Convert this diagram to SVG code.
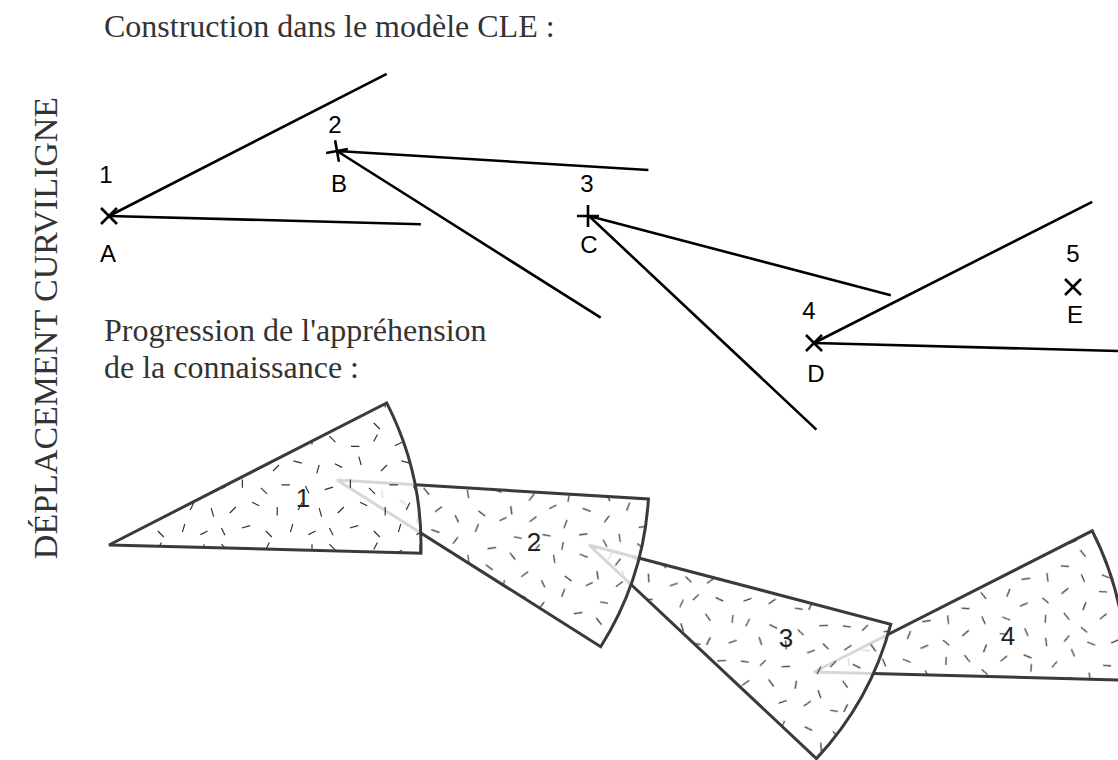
<svg xmlns="http://www.w3.org/2000/svg" width="1118" height="760" viewBox="0 0 1118 760">
<style>
.title{font-family:"Liberation Serif","Times New Roman",serif;font-size:32px;fill:#333}
.side{font-family:"Liberation Serif","Times New Roman",serif;font-size:34px;fill:#333}
.lbl{font-family:"Liberation Sans",Arial,sans-serif;font-size:24px;fill:#000;text-anchor:middle}
.num{font-family:"Liberation Sans",Arial,sans-serif;font-size:26px;fill:#222;text-anchor:middle}
.ray{stroke:#000;stroke-width:2.6;fill:none;stroke-linecap:butt}
.cross{stroke:#000;stroke-width:2.6;fill:none}
.veil{fill:#fff;fill-opacity:0.8;stroke:none}
.edge{fill:none;stroke:#3a3a3a;stroke-width:3;stroke-linejoin:miter}
</style>
<defs>
<pattern id="tex" width="108" height="108" patternUnits="userSpaceOnUse">
<path transform="scale(1.2)" fill="none" stroke="#333" stroke-width="1" d="M4.5 3.5l5 5M22.5 12l7 0M44.5 2l-3 6M59 11.5l6 -3M80 3.5l0 7M9 26.5l6 3M29 20.5l2 7M47.5 32.5l5 -5M64.5 24l7 2M86 27.5l-2 7M0.5 48l7 -2M22 39.5l0 7M37.5 46.5l5 5M54.5 44l7 0M74.5 45l3 6M11.5 67.5l5 -5M30 58.5l6 3M51 62.5l0 7M71.5 59l-3 6M86 63.5l2 7M4.5 80l3 6M21.5 80l7 -2M41.5 82.5l5 5M64 76.5l-2 7M77 85.5l6 -3"/>
</pattern>
<pattern id="tex2" href="#tex" patternTransform="translate(13 7) rotate(37)"/>
<pattern id="tex3" href="#tex" patternTransform="translate(31 19) rotate(71)"/>
<pattern id="tex4" href="#tex" patternTransform="translate(5 41) rotate(-23)"/>
</defs>

<text class="title" x="104" y="37">Construction dans le modèle CLE :</text>
<text class="side" transform="translate(57 328) rotate(-90)" text-anchor="middle">DÉPLACEMENT CURVILIGNE</text>
<text class="title" x="104" y="341">Progression de l'appréhension</text>
<text class="title" x="104" y="378">de la connaissance :</text>

<g id="connectors">
<path class="ray" d="M109 216L386.7 73.9M109 216L420.9 224.2"/>
<path class="ray" d="M337 151L648.4 170M337 151L600.7 317.7"/>
<path class="ray" d="M589 216L890.8 295.2M589 216L816.4 429.6"/>
<path class="ray" d="M814 343L1092.2 201.8M814 343L1125.9 351.2"/>
</g>

<g id="pointA">
<path class="cross" d="M101 208L117 224M117 208L101 224"/>
<text class="lbl" x="106" y="183">1</text>
<text class="lbl" x="108" y="262">A</text>
</g>
<g id="pointB">
<path class="cross" transform="translate(337 151) rotate(-10)" d="M-11 0L11 0M0 -11L0 11"/>
<text class="lbl" x="335" y="133">2</text>
<text class="lbl" x="339" y="192">B</text>
</g>
<g id="pointC">
<path class="cross" d="M577 216L599 216M588 205L588 227"/>
<text class="lbl" x="587" y="192">3</text>
<text class="lbl" x="589" y="253">C</text>
</g>
<g id="pointD">
<path class="cross" d="M806 335L822 351M822 335L806 351"/>
<text class="lbl" x="809" y="319">4</text>
<text class="lbl" x="816" y="382">D</text>
</g>
<g id="pointE">
<path class="cross" d="M1065 279L1081 295M1081 279L1065 295"/>
<text class="lbl" x="1073" y="262">5</text>
<text class="lbl" x="1075" y="323">E</text>
</g>

<g id="sector4">
<path class="veil" d="M814 672L1092.2 530.8A312 312 0 0 1 1125.9 680.2Z"/>
<path fill="url(#tex4)" d="M814 672L1092.2 530.8A312 312 0 0 1 1125.9 680.2Z"/>
<path class="edge" d="M814 672L1092.2 530.8A312 312 0 0 1 1125.9 680.2Z"/>
<text class="num" x="1008" y="645">4</text>
</g>
<g id="sector3">
<path class="veil" d="M589 545L890.8 624.2A312 312 0 0 1 816.4 758.6Z"/>
<path fill="url(#tex3)" d="M589 545L890.8 624.2A312 312 0 0 1 816.4 758.6Z"/>
<path class="edge" d="M589 545L890.8 624.2A312 312 0 0 1 816.4 758.6Z"/>
<text class="num" x="786" y="647">3</text>
</g>
<g id="sector2">
<path class="veil" d="M337 480L648.4 499A312 312 0 0 1 600.7 646.7Z"/>
<path fill="url(#tex2)" d="M337 480L648.4 499A312 312 0 0 1 600.7 646.7Z"/>
<path class="edge" d="M337 480L648.4 499A312 312 0 0 1 600.7 646.7Z"/>
<text class="num" x="534" y="551">2</text>
</g>
<g id="sector1">
<path class="veil" d="M109 545L386.7 402.9A312 312 0 0 1 420.9 553.2Z"/>
<path fill="url(#tex)" d="M109 545L386.7 402.9A312 312 0 0 1 420.9 553.2Z"/>
<path class="edge" d="M109 545L386.7 402.9A312 312 0 0 1 420.9 553.2Z"/>
<text class="num" x="303" y="507">1</text>
</g>
</svg>
